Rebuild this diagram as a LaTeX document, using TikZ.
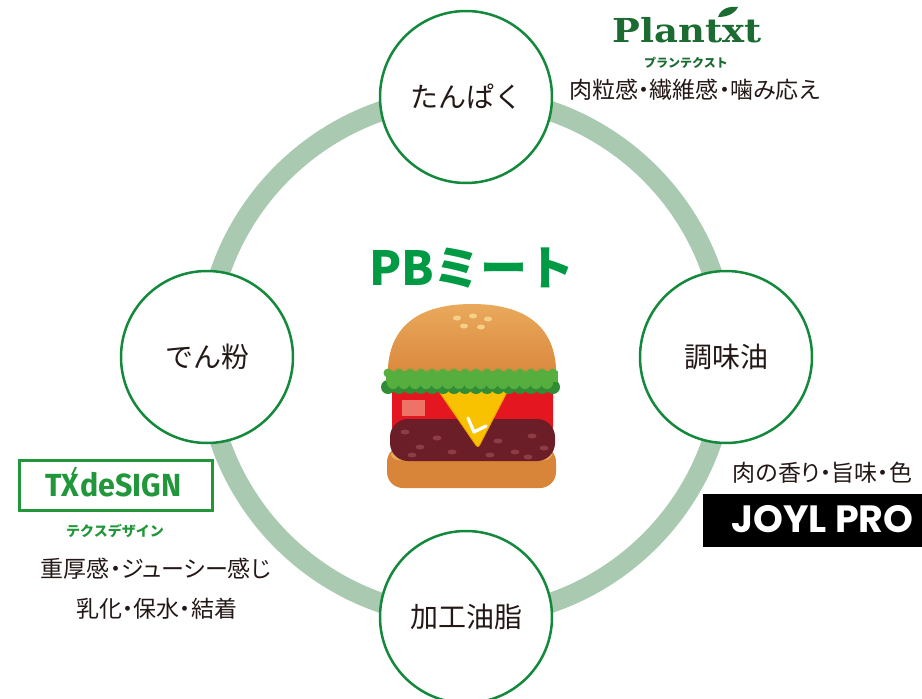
\documentclass[tikz,border=0pt]{standalone}
\usepackage{fontspec}
\newfontfamily\jp{Noto Sans CJK JP}
\newfontfamily\jpprop[RawFeature=+palt]{Noto Sans CJK JP}
\newfontfamily\logoserif{DejaVu Serif}
\newfontfamily\logosans{Fira Sans}
\newfontfamily\joylfont{Poppins}
\definecolor{ringgreen}{HTML}{A9CAB0}
\definecolor{circgreen}{HTML}{14893C}
\definecolor{ink}{HTML}{231815}
\definecolor{pbgreen}{HTML}{009A44}
\definecolor{plantgreen}{HTML}{1B6B32}
\definecolor{txgreen}{HTML}{22963A}
\definecolor{bun}{HTML}{D8853A}
\definecolor{bunlight}{HTML}{E9A95C}
\definecolor{lettuce}{HTML}{55AE3E}
\definecolor{lettucedark}{HTML}{318D35}
\definecolor{tomato}{HTML}{E4161F}
\definecolor{tomatohl}{HTML}{EE7366}
\definecolor{cheese}{HTML}{F8C200}
\definecolor{cheeseedge}{HTML}{F0A400}
\definecolor{patty}{HTML}{6B1D28}
\definecolor{pattyspot}{HTML}{8E3D44}
\definecolor{seed}{HTML}{F6CF8A}
\tikzset{
  ring/.style={line width=20pt, draw=ringgreen},
  item/.style={circle, draw=circgreen, line width=2.5pt, fill=white,
    minimum size=172pt, inner sep=0pt, text=ink,
    font=\jp\fontsize{28}{34}\selectfont},
  note/.style={inner sep=0pt, text=ink, font=\jpprop\fontsize{23}{27}\selectfont},
  kana/.style={inner sep=0pt, font=\jp\bfseries\fontsize{12}{14}\selectfont},
}
\begin{document}
\begin{tikzpicture}[x=1pt, y=-1pt]
\useasboundingbox (0,0) rectangle (922,699);

% outer ring linking the four ingredients
\coordinate (hub) at (466,357);
\draw[ring] (hub) circle (260pt);

\node[item] (protein) at (466,97)  {たんぱく};
\node[item] (starch)  at (207,357) {でん粉};
\node[item] (oil)     at (726,357) {調味油};
\node[item] (fat)     at (466,617) {加工油脂};

% title
\node[inner sep=0pt, text=pbgreen, font=\jp\bfseries\fontsize{47}{50}\selectfont]
  (title) at (472,268) {PBミート};

% ---- hamburger ----
% bottom bun
\fill[bun, rounded corners=16pt] (387,446) rectangle (556,488);
\fill[bunlight, rounded corners=7pt] (391,449) rectangle (552,460);
% tomato slice
\fill[tomato, rounded corners=5pt] (392,386) rectangle (553,432);
\fill[tomatohl] (402,400) rectangle (425,416);
% patty
\fill[patty, rounded corners=18pt] (390,419) rectangle (555,461);
\foreach \px/\py in {405/432,420/447,437/438,452/452,498/441,515/452,532/436,544/448,412/455,490/455,528/457}
  \fill[pattyspot] (\px,\py) ellipse (4.5pt and 2.5pt);
% cheese
\fill[cheese, draw=cheeseedge, line width=1pt, rounded corners=3pt]
  (438,390) -- (508,390) -- (478,448) -- cycle;
\draw[white, line width=3.2pt, line cap=round, line join=round]
  (468,418) -- (474,432) -- (486,426);
% top bun
\shade[top color=bunlight, bottom color=bun]
  (388,382) .. controls (384,318) and (430,304) .. (472,304)
  .. controls (514,304) and (560,318) .. (556,382) -- cycle;
\foreach \sx/\sy in {457/318,473/316,488/319,464/326,481/327}
  \fill[seed] (\sx,\sy) ellipse (4pt and 2.5pt);
% lettuce: darker lower frill, lighter upper frill
\foreach \lx in {388,399,...,560}
  \fill[lettucedark] (\lx,387) circle (7pt);
\fill[lettuce] (386,371) rectangle (558,382);
\foreach \lx in {393,404,...,556}
  \fill[lettuce] (\lx,383) circle (6pt);
\foreach \lx in {388,399,...,560}
  \fill[lettuce] (\lx,373) circle (4.5pt);

% ---- Plantxt ----
\node[anchor=base, inner sep=0pt, text=plantgreen,
  font=\logoserif\bfseries\fontsize{33}{36}\selectfont]
  (plantxt) at (687,42) {\scalebox{1.12}[1]{Plantxt}};
\fill[plantgreen] (718,17) .. controls (721,8) and (730,6) .. (738,7)
  .. controls (734,15) and (725,17) .. (718,17) -- cycle;
\node[kana, text=plantgreen] (plantkana) at (686,63) {プランテクスト};
\node[note] (plantnote) at (694.5,90) {肉粒感・繊維感・噛み応え};

% ---- TXdeSIGN ----
\node[draw=txgreen, line width=3pt, minimum width=193pt, minimum height=50pt,
  inner sep=0pt] (txbox) at (115.5,485) {};
\node[inner sep=0pt, text=txgreen, font=\logosans\bfseries\fontsize{32}{34}\selectfont]
  (txlogo) at (113.5,485) {\scalebox{0.95}[1]{TX\kern1pt deSIGN}};
\draw[txgreen, line width=2pt] (72,475) -- (76,467);
\node[kana, text=txgreen, font=\jp\bfseries\fontsize{14}{16}\selectfont]
  (txkana) at (115,531) {テクスデザイン};
\node[note] (txnote1) at (156,569) {重厚感・ジューシー感じ};
\node[note] (txnote2) at (156.5,609) {乳化・保水・結着};

% ---- JOYL PRO ----
\node[note] (joylnote) at (822.5,473) {肉の香り・旨味・色};
\node[fill=black, minimum width=219pt, minimum height=53pt, inner sep=0pt]
  (joylbox) at (812.5,520.5) {};
\node[inner sep=0pt, text=white, font=\joylfont\bfseries\fontsize{38}{40}\selectfont]
  (joyl) at (822.5,519) {JOYL PRO};
\end{tikzpicture}
\end{document}
